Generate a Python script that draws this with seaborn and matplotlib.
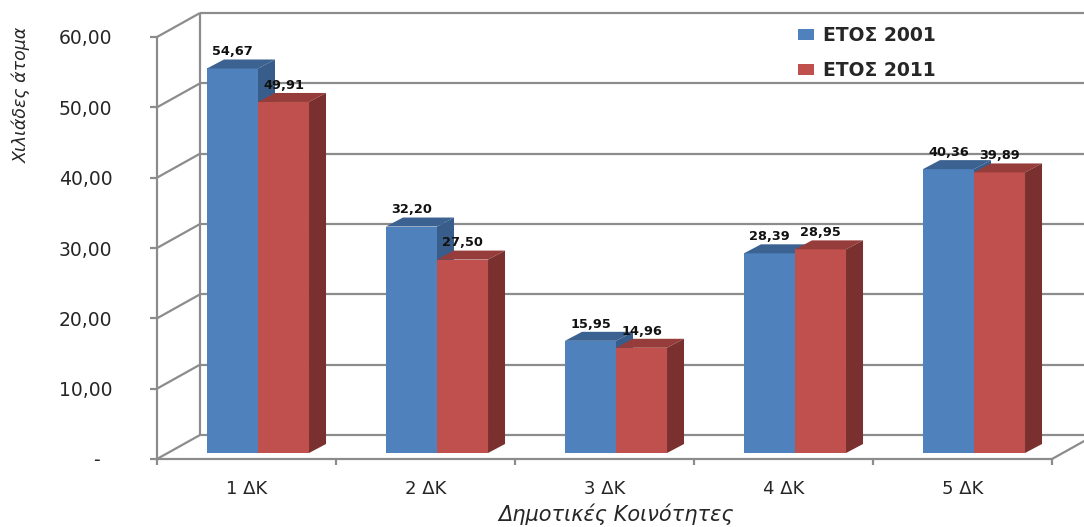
import numpy as np
import pandas as pd
import matplotlib
matplotlib.use("Agg")
import matplotlib.pyplot as plt
from matplotlib.patches import Polygon, Patch
import seaborn as sns

# Population per municipal community (thousands of persons)
categories = ["1 ΔΚ", "2 ΔΚ", "3 ΔΚ", "4 ΔΚ", "5 ΔΚ"]
years = ["ΕΤΟΣ 2001", "ΕΤΟΣ 2011"]
values_2001 = [54.67, 32.20, 15.95, 28.39, 40.36]
values_2011 = [49.91, 27.50, 14.96, 28.95, 39.89]
y_ticks = [0, 10, 20, 30, 40, 50, 60]
y_tick_labels = ["-  ", "10,00", "20,00", "30,00", "40,00", "50,00", "60,00"]
y_title = "Χιλιάδες άτομα"
x_title = "Δημοτικές Κοινότητες"

front_colors = ["#4F81BD", "#C0504D"]
top_colors = ["#3B6291", "#963D3B"]
side_colors = ["#385D8A", "#7A302E"]
grid_color = "#8C8C8C"
text_color = "#262626"

sns.set_style("white")
plt.rcParams["font.family"] = ["DejaVu Sans"]

W, H = 1084, 527
fig = plt.figure(figsize=(W / 100, H / 100), dpi=100)
# front plane of the pseudo-3D box, in pixels
px0, px1, py0, py1 = 157, 1052, 459, 37
ax = fig.add_axes([px0 / W, 1 - py0 / H, (px1 - px0) / W, (py0 - py1) / H])

df = pd.DataFrame({
    "community": categories * 2,
    "value": values_2001 + values_2011,
    "year": [years[0]] * len(categories) + [years[1]] * len(categories),
})
sns.barplot(data=df, x="community", y="value", hue="year", order=categories,
            hue_order=years, palette=front_colors, width=0.57, gap=0,
            saturation=1, linewidth=0, legend=False, ax=ax)
ax.set_xlim(-0.5, len(categories) - 0.5)
ax.set_ylim(y_ticks[0], y_ticks[-1])

# data units per pixel, used to turn depth offsets into data offsets
sx = len(categories) / (px1 - px0)
sy = (y_ticks[-1] - y_ticks[0]) / (py0 - py1)


def off(dx_px, dy_px):
    return dx_px * sx, dy_px * sy


wall_dx, wall_dy = off(43, 24)
shift_dx, shift_dy = off(11.5, 6)
depth_dx, depth_dy = off(17, 9)

xl, xr = ax.get_xlim()
line_kw = dict(color=grid_color, lw=1.6, clip_on=False, zorder=0.5,
               solid_capstyle="butt")
for v in y_ticks:
    ax.plot([xl, xl + wall_dx], [v, v + wall_dy], **line_kw)
    ax.plot([xl + wall_dx, xr + 2 * wall_dx], [v + wall_dy] * 2, **line_kw)
ax.plot([xl + wall_dx] * 2, [y_ticks[0] + wall_dy, y_ticks[-1] + wall_dy], **line_kw)
ax.plot([xr, xr + wall_dx], [0, wall_dy], **line_kw)

# extrude bars: shift into the box, add top and side faces, value labels
for i, cont in enumerate(ax.containers):
    z = 2 + i
    for bar, v in zip(cont.patches, cont.datavalues):
        bar.set_x(bar.get_x() + shift_dx)
        bar.set_y(bar.get_y() + shift_dy)
        bar.set_zorder(z)
        bx0 = bar.get_x()
        bx1 = bx0 + bar.get_width()
        by0 = bar.get_y()
        by1 = by0 + bar.get_height()
        top = Polygon([(bx0, by1), (bx1, by1), (bx1 + depth_dx, by1 + depth_dy),
                       (bx0 + depth_dx, by1 + depth_dy)], closed=True,
                      facecolor=top_colors[i], edgecolor="none", zorder=z,
                      clip_on=False)
        side = Polygon([(bx1, by0), (bx1, by1), (bx1 + depth_dx, by1 + depth_dy),
                        (bx1 + depth_dx, by0 + depth_dy)], closed=True,
                       facecolor=side_colors[i], edgecolor="none", zorder=z,
                       clip_on=False)
        ax.add_patch(top)
        ax.add_patch(side)
        ax.annotate(f"{v:.2f}".replace(".", ","), xy=((bx0 + bx1) / 2, by1 + depth_dy),
                    xytext=(0, 3), textcoords="offset points", ha="center",
                    va="baseline", fontsize=9.3, fontweight="bold", color="#111111",
                    zorder=10, annotation_clip=False)

for s in ["top", "right"]:
    ax.spines[s].set_visible(False)
for s in ["left", "bottom"]:
    ax.spines[s].set_color(grid_color)
    ax.spines[s].set_linewidth(1.6)
    ax.spines[s].set_zorder(0.6)

ax.set_yticks(y_ticks, y_tick_labels)
ax.tick_params(axis="y", which="both", left=True, direction="out", length=5,
               width=1.6, color=grid_color, pad=27, labelsize=13.5,
               labelcolor=text_color)
ax.set_xticks(np.arange(-0.5, len(categories), 1.0), [""] * (len(categories) + 1))
ax.set_xticks(np.arange(len(categories)), categories, minor=True)
ax.tick_params(axis="x", which="major", bottom=True, direction="out", length=4.5,
               width=1.6, color=grid_color)
ax.tick_params(axis="x", which="minor", bottom=True, length=0, pad=15,
               labelsize=13, labelcolor=text_color)
ax.set_xlabel("")
ax.set_ylabel("")
ax.patch.set_alpha(0)

handles = [Patch(facecolor=c, edgecolor="none") for c in front_colors]
fig.legend(handles, years, loc="upper left", bbox_to_anchor=(798 / W, 1 - 26 / H),
           bbox_transform=fig.transFigure, frameon=False, borderpad=0,
           borderaxespad=0, handlelength=0.85, handleheight=0.5,
           handletextpad=0.5, labelspacing=0.85,
           prop={"weight": "bold", "size": 13.5})

fig.text(22 / W, 1 - 95 / H, y_title, rotation=90, ha="center", va="center",
         style="italic", fontsize=12.5, color=text_color)
fig.text(616 / W, 1 - 514 / H, x_title, ha="center", va="center",
         style="italic", fontsize=15, color=text_color)

fig.savefig("out.png", dpi=100)
